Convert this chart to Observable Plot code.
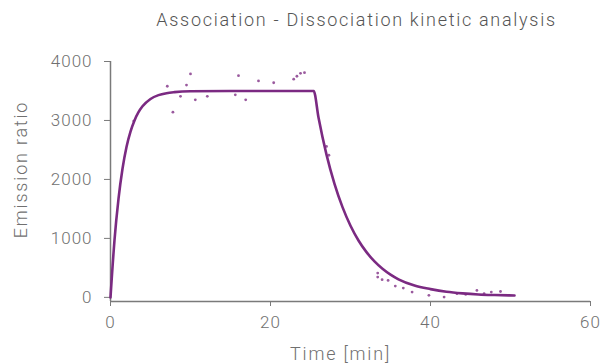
<!DOCTYPE html>
<html>
<head>
<meta charset="utf-8">
<script src="https://cdn.jsdelivr.net/npm/d3@7"></script>
<script src="https://cdn.jsdelivr.net/npm/@observablehq/plot@0.6"></script>
<style>
  body { margin: 0; background: #fff; }
  #title { height: 19px; padding-top: 11px; line-height: 18px; width: 497px; padding-left: 108px;
           text-align: center; font-family: Roboto, sans-serif; font-weight: 300; font-size: 18px; letter-spacing: 1.7px; color: #555; white-space: nowrap; }
  #chart svg text { letter-spacing: 1px; }
</style>
</head>
<body>
<div id="title">Association - Dissociation kinetic analysis</div>
<div id="chart"></div>
<script>
// Fitted curve (time in min, emission ratio)
const curveTime  = [0, 0.5, 1, 1.5, 2, 2.5, 3, 3.5, 4, 5, 6, 7, 8, 10, 15, 20, 25.4, 26, 27, 28, 29, 30, 31, 32, 33, 34, 35, 36, 38, 40, 42, 44, 46, 48, 50.5];
const curveValue = [0, 970, 1670, 2180, 2550, 2810, 3000, 3140, 3240, 3365, 3430, 3463, 3480, 3495, 3500, 3500, 3500, 3050, 2420, 1925, 1530, 1215, 965, 767, 609, 484, 385, 306, 200, 140, 95, 68, 50, 40, 32];

// Measured points
const pointTime  = [2.9, 7.1, 7.8, 8.75, 9.5, 10.0, 10.6, 12.1, 15.6, 16.0, 16.9, 18.5, 20.4, 22.9, 23.3, 23.75, 24.25,
                    27.0, 27.3, 33.4, 33.4, 33.95, 34.7, 35.6, 36.6, 37.7, 39.8, 41.7, 43.3, 44.4, 45.8, 46.7, 47.6, 48.75];
const pointValue = [2990, 3580, 3140, 3410, 3600, 3790, 3350, 3410, 3435, 3760, 3350, 3670, 3640, 3700, 3750, 3800, 3810,
                    2560, 2410, 412, 344, 300, 288, 192, 158, 90, 34, 5, 62, 50, 118, 62, 90, 100];

const xTicks = [0, 20, 40, 60];
const yTicks = [0, 1000, 2000, 3000, 4000];
const xTitle = "Time [min]";
const yTitle = "Emission ratio";

const curve = curveTime.map((t, i) => ({t, v: curveValue[i]}));
const points = pointTime.map((t, i) => ({t, v: pointValue[i]}));

const yMin = -70;
const purple = "#7b2a82";
const axisColor = "#7a7a7a";

const chart = Plot.plot({
  width: 603,
  height: 334,
  marginLeft: 110,
  marginRight: 13,
  marginTop: 31,
  marginBottom: 63,
  style: {fontFamily: "Roboto, sans-serif", fontSize: "17px", fontWeight: 300, background: "white"},
  x: {domain: [0, 60]},
  y: {domain: [yMin, 4000]},
  marks: [
    Plot.ruleX([0], {y1: yMin, y2: 4000, stroke: axisColor, strokeWidth: 1.5}),
    Plot.ruleY([yMin], {x1: 0, x2: 60, stroke: axisColor, strokeWidth: 1.5}),
    Plot.axisY({ticks: yTicks, tickSize: 6, tickPadding: 12, stroke: axisColor, fill: "#707070", label: null, tickFormat: d => String(d)}),
    Plot.axisX({ticks: xTicks, tickSize: 5, tickPadding: 9, stroke: axisColor, fill: "#707070", label: null, tickFormat: d => String(d)}),
    Plot.text([yTitle], {frameAnchor: "left", textAnchor: "middle", rotate: -90, dx: -89, dy: -12, fill: "#707070", fontSize: 18}),
    Plot.text([xTitle], {frameAnchor: "bottom", textAnchor: "middle", dx: -10, dy: 58, fill: "#707070", fontSize: 18}),
    Plot.dot(points, {x: "t", y: "v", r: 1.4, fill: "#9a5a9e", stroke: "none"}),
    Plot.line(curve, {x: "t", y: "v", stroke: purple, strokeWidth: 2.6, curve: "monotone-x"})
  ]
});
d3.select(chart).selectAll("g[aria-label='text'] text").style("letter-spacing", "1.8px");
document.getElementById("chart").appendChild(chart);
</script>
</body>
</html>
